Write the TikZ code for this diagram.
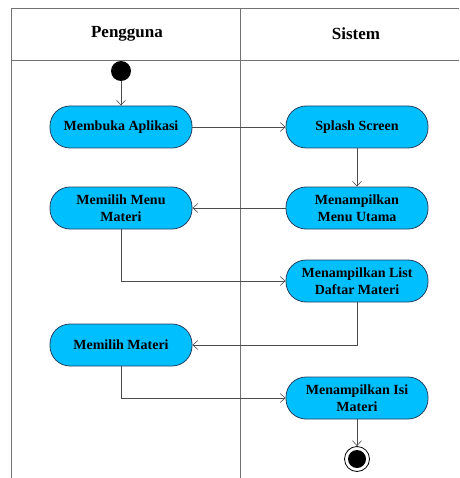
\documentclass[tikz,border=0pt]{standalone}
\usepackage{fontspec}
\setmainfont{Liberation Serif}
\usetikzlibrary{arrows.meta}

\definecolor{actfill}{RGB}{0,191,255}
\definecolor{actline}{RGB}{35,65,95}

\begin{document}
\begin{tikzpicture}[x=1pt, y=-1pt,
    % Define the styles for the activities and flows
    activity/.style={draw=actline, fill=actfill, line width=0.8pt,
        rounded corners=20pt, minimum width=142pt, minimum height=42pt,
        align=center, font=\fontsize{14}{17}\selectfont\bfseries},
    flow/.style={draw=black!70, line width=0.6pt,
        -{Straight Barb[length=5pt, width=9pt]}},
    lane/.style={draw=black!55, line width=0.8pt},
    header/.style={font=\fontsize{17}{20}\selectfont\bfseries}
]

\useasboundingbox (0,0) rectangle (459,478);

% Draw the swimlanes
\draw[lane] (459,8) -- (11,8) -- (11,478);
\draw[lane] (11,60) -- (459,60);
\draw[lane] (240,8) -- (240,478);
\node[header] (pengguna) at (127,34) {Pengguna};
\node[header] (sistem) at (356,34) {Sistem};

% Add the start and end points
\node[circle, fill=black, minimum size=20pt, inner sep=0pt] (start) at (121,71) {};
\node[circle, draw=black, line width=0.8pt, minimum size=25pt, inner sep=0pt,
    path picture={\fill[black] (path picture bounding box.center) circle (9pt);}] (final) at (357,459) {};

% Add the activities
\node[activity] (buka) at (121,127) {Membuka Aplikasi};
\node[activity] (splash) at (357,127) {Splash Screen};
\node[activity] (pilihmenu) at (121,208) {Memilih Menu\\Materi};
\node[activity] (menu) at (357,208) {Menampilkan\\Menu Utama};
\node[activity] (list) at (357,281) {Menampilkan List\\Daftar Materi};
\node[activity] (pilihmateri) at (121,345) {Memilih Materi};
\node[activity] (isi) at (357,398) {Menampilkan Isi\\Materi};

% Draw the flows
\draw[flow] (start) -- (buka);
\draw[flow] (buka) -- (splash);
\draw[flow] (splash) -- (menu);
\draw[flow] (menu) -- (pilihmenu);
\draw[flow] (pilihmenu) |- (list);
\draw[flow] (list) |- (pilihmateri);
\draw[flow] (pilihmateri) |- (isi);
\draw[flow] (isi) -- (final);

\end{tikzpicture}
\end{document}
